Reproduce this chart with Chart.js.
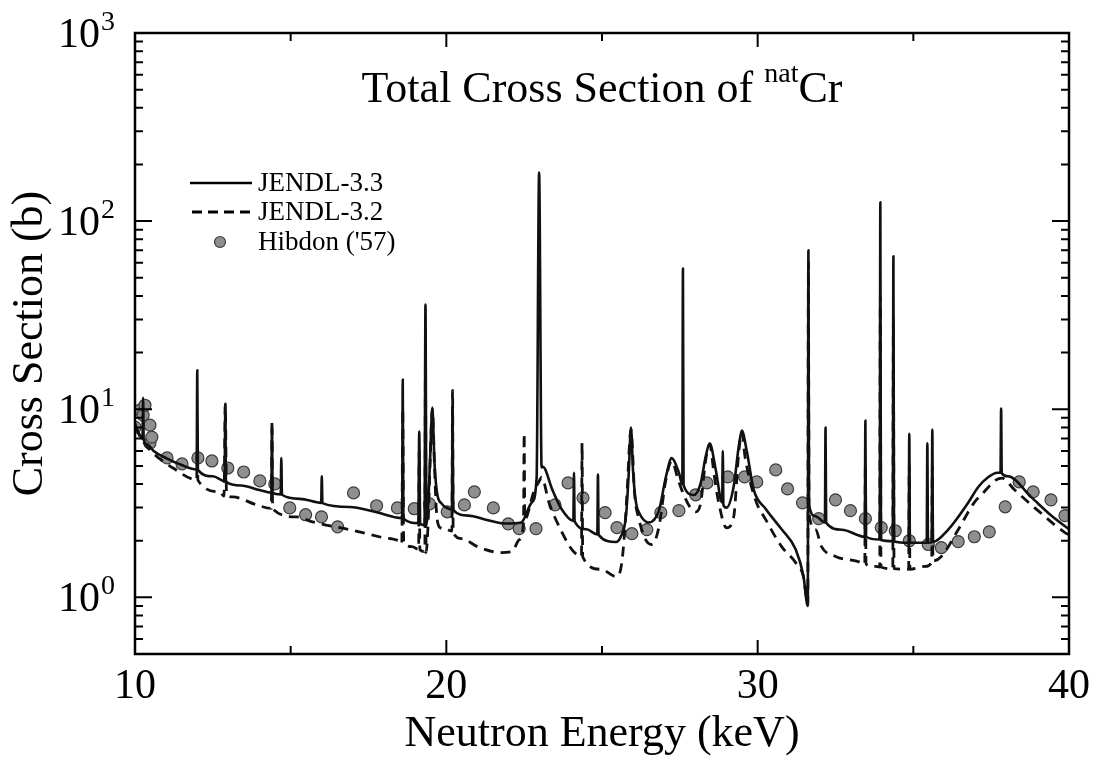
<!DOCTYPE html>
<html>
<head>
<meta charset="utf-8">
<script src="https://cdn.jsdelivr.net/npm/chart.js@4.4.0/dist/chart.umd.min.js"></script>
<style>
  html, body { margin: 0; padding: 0; background: #fff; }
  #wrap { width: 1098px; height: 771px; }
</style>
</head>
<body>
<div id="wrap"><canvas id="xs" width="1098" height="771"></canvas></div>
<script>
// total cross section of natural Cr, 10-40 keV
const j33E = [
  10.00, 10.10, 10.24, 10.26, 10.28, 10.40, 10.60, 11.00, 11.50, 11.98,
  12.00, 12.02, 12.50, 12.88, 12.90, 12.92, 13.40, 14.00, 14.38, 14.40,
  14.42, 14.68, 14.70, 14.72, 15.30, 15.98, 16.00, 16.02, 16.90, 17.70,
  18.58, 18.60, 18.62, 19.10, 19.13, 19.16, 19.30, 19.33, 19.36, 19.42,
  19.48, 19.55, 19.62, 19.70, 19.85, 20.00, 20.18, 20.20, 20.22, 20.70,
  21.30, 21.90, 22.40, 22.75, 22.90, 22.98, 23.06, 23.10, 23.40, 23.70,
  24.08, 24.10, 24.12, 24.50, 24.85, 24.87, 24.89, 25.45, 25.60, 25.77,
  25.86, 25.93, 26.00, 26.09, 26.20, 26.50, 26.83, 27.05, 27.24, 27.47,
  27.58, 27.60, 27.62, 27.95, 28.17, 28.33, 28.46, 28.65, 28.86, 28.88,
  28.90, 29.00, 29.23, 29.39, 29.49, 29.65, 29.87, 30.26, 30.77, 31.22,
  31.47, 31.61, 31.63, 31.65, 31.86, 32.16, 32.18, 32.20, 32.70, 33.44,
  33.46, 33.48, 33.92, 33.94, 33.96, 34.34, 34.36, 34.38, 34.85, 34.87,
  34.89, 35.43, 35.45, 35.47, 35.59, 35.61, 35.63, 36.12, 36.76, 37.08,
  37.40, 37.70, 37.80, 37.82, 37.84, 38.04, 38.78, 39.40, 40.00
];
const j33S = [
  8.4, 7.6, 7.0, 11.5, 6.9, 6.5, 6.0, 5.5, 5.05, 4.78,
  16.1, 4.76, 4.4, 4.15, 10.7, 4.13, 3.93, 3.72, 3.6, 8.0,
  3.59, 3.52, 5.5, 3.51, 3.34, 3.18, 4.4, 3.17, 3.02, 2.85,
  2.64, 14.4, 2.63, 2.48, 7.6, 2.46, 2.42, 36, 2.45, 3.2,
  5.5, 10.2, 5.2, 3.6, 3.15, 3.0, 2.93, 10.0, 2.92, 2.72,
  2.58, 2.47, 2.5, 3.2, 4.3, 181, 4.9, 4.95, 3.75, 2.95,
  2.55, 4.6, 2.54, 2.3, 2.16, 4.5, 2.15, 1.97, 2.1, 2.7,
  4.6, 8.0, 4.6, 3.2, 2.8, 2.5, 2.9, 4.35, 5.5, 4.6,
  4.0, 56, 3.95, 3.5, 4.05, 5.6, 6.6, 4.8, 3.2, 6.0,
  3.1, 3.0, 3.9, 6.3, 7.7, 6.0, 3.75, 2.95, 2.3, 1.8,
  1.3, 0.9, 70, 3.1, 2.7, 2.5, 8.0, 2.49, 2.29, 2.1,
  8.7, 2.1, 2.03, 126, 2.02, 1.99, 65, 1.98, 1.95, 7.4,
  1.95, 1.95, 6.6, 1.95, 1.96, 7.8, 1.97, 2.29, 3.18, 3.85,
  4.35, 4.6, 4.6, 10.1, 4.57, 4.4, 3.42, 2.75, 2.3
];

const j32E = [
  10.00, 10.30, 10.58, 11.22, 11.98, 12.00, 12.02, 12.72, 12.86, 12.90,
  12.94, 13.14, 13.91, 14.38, 14.40, 14.42, 15.19, 15.70, 16.90, 17.95,
  18.50, 18.57, 18.60, 18.63, 18.90, 19.11, 19.13, 19.15, 19.31, 19.33,
  19.35, 19.42, 19.48, 19.55, 19.62, 19.68, 19.80, 20.00, 20.18, 20.20,
  20.22, 20.50, 21.00, 21.75, 22.10, 22.35, 22.48, 22.50, 22.52, 22.80,
  23.00, 23.06, 23.30, 23.72, 24.04, 24.34, 24.36, 24.38, 24.97, 25.45,
  25.60, 25.70, 25.80, 25.93, 26.05, 26.19, 26.40, 26.60, 26.83, 27.05,
  27.24, 27.45, 27.60, 27.82, 28.01, 28.17, 28.33, 28.46, 28.60, 28.75,
  29.00, 29.23, 29.39, 29.49, 29.60, 29.93, 30.26, 30.77, 31.22, 31.47,
  31.61, 31.63, 31.65, 31.86, 32.05, 32.50, 33.23, 33.44, 33.46, 33.48,
  33.77, 33.92, 33.94, 33.96, 34.34, 34.36, 34.38, 34.85, 34.87, 34.89,
  35.38, 35.59, 35.61, 35.63, 35.90, 36.44, 36.96, 37.18, 37.66, 37.85,
  38.25, 39.08, 39.87, 40.00
];
const j32S = [
  8.0, 6.6, 5.85, 4.87, 4.22, 6.0, 4.2, 3.64, 3.45, 10.5,
  3.55, 3.42, 3.1, 2.97, 8.7, 2.96, 2.68, 2.52, 2.29, 2.08,
  1.98, 1.92, 10.0, 1.97, 1.86, 1.8, 6.0, 1.79, 1.75, 20,
  1.73, 2.6, 5.3, 10.0, 5.0, 2.9, 2.35, 2.3, 2.25, 12.6,
  2.22, 2.05, 1.86, 1.73, 1.75, 2.03, 2.5, 7.45, 2.6, 3.6,
  4.2, 4.35, 3.18, 2.21, 1.79, 1.65, 6.6, 1.64, 1.41, 1.29,
  1.41, 1.95, 3.5, 7.8, 3.5, 2.59, 2.03, 1.91, 2.37, 4.21,
  5.3, 4.2, 3.59, 3.03, 2.85, 3.18, 5.37, 6.5, 4.5, 3.18,
  2.34, 2.68, 5.85, 7.5, 5.5, 3.3, 2.59, 1.86, 1.53, 1.29,
  0.92, 60, 2.8, 2.29, 1.86, 1.65, 1.55, 1.5, 5.0, 1.5,
  1.46, 1.45, 40, 1.45, 1.42, 30, 1.42, 1.41, 5.0, 1.41,
  1.46, 1.54, 5.0, 1.56, 1.65, 2.29, 3.2, 3.5, 4.21, 4.3,
  3.73, 2.82, 2.21, 2.15
];

const hibE = [
  10.00, 10.16, 10.26, 10.32, 10.48, 10.48, 10.54, 11.03, 11.51, 12.02,
  12.47, 12.98, 13.49, 14.01, 14.49, 14.97, 15.48, 15.99, 16.51, 17.02,
  17.76, 18.43, 18.97, 19.46, 20.03, 20.58, 20.90, 21.51, 21.99, 22.34,
  22.88, 23.49, 23.91, 24.39, 25.10, 25.48, 25.96, 26.44, 26.89, 27.47,
  28.01, 28.37, 29.04, 29.58, 29.97, 30.58, 30.96, 31.44, 31.96, 32.50,
  32.98, 33.46, 33.97, 34.42, 34.87, 35.48, 35.90, 36.44, 36.96, 37.44,
  37.95, 38.40, 38.85, 39.42, 39.87
];
const hibS = [
  8.03, 9.9, 9.3, 10.5, 8.23, 6.61, 7.11, 5.51, 5.12, 5.51,
  5.31, 4.87, 4.64, 4.16, 4.01, 2.99, 2.75, 2.68, 2.37, 3.59,
  3.07, 2.99, 2.96, 3.14, 2.85, 3.10, 3.64, 2.99, 2.46, 2.32,
  2.32, 3.10, 4.06, 3.38, 2.82, 2.35, 2.18, 2.29, 2.82, 2.89,
  3.51, 4.06, 4.37, 4.37, 4.11, 4.76, 3.77, 3.18, 2.62, 3.30,
  2.89, 2.62, 2.35, 2.26, 2.00, 1.91, 1.84, 1.98, 2.10, 2.23,
  3.03, 4.11, 3.64, 3.30, 2.72
];

const xMajor = [10, 20, 30, 40];
const xMinor = [15, 25, 35];
const yMajor = [1, 10, 100, 1000];
const yExp = ['0', '1', '2', '3'];
const yMinor = [0.6, 0.7, 0.8, 0.9, 2, 3, 4, 5, 6, 7, 8, 9,
                20, 30, 40, 50, 60, 70, 80, 90, 200, 300, 400, 500, 600, 700, 800, 900];

const serif = "'Liberation Serif', 'Times New Roman', serif";
const pts = (xs, ys) => xs.map((x, i) => ({ x, y: ys[i] }));

// frame, inward ticks on four sides, power-of-ten labels, inner title and key
const decor = {
  id: 'decor',
  afterDraw(chart) {
    const { ctx, chartArea: a, scales: { x, y } } = chart;
    ctx.save();
    ctx.strokeStyle = '#000';
    ctx.lineWidth = 2.5;
    ctx.strokeRect(a.left, a.top, a.right - a.left, a.bottom - a.top);

    ctx.lineWidth = 2;
    ctx.beginPath();
    yMajor.forEach(v => {
      const p = y.getPixelForValue(v);
      ctx.moveTo(a.left, p); ctx.lineTo(a.left + 17, p);
      ctx.moveTo(a.right, p); ctx.lineTo(a.right - 17, p);
    });
    yMinor.forEach(v => {
      const p = y.getPixelForValue(v);
      ctx.moveTo(a.left, p); ctx.lineTo(a.left + 8, p);
      ctx.moveTo(a.right, p); ctx.lineTo(a.right - 8, p);
    });
    xMajor.forEach(v => {
      const p = x.getPixelForValue(v);
      ctx.moveTo(p, a.bottom); ctx.lineTo(p, a.bottom - 14);
      ctx.moveTo(p, a.top); ctx.lineTo(p, a.top + 14);
    });
    xMinor.forEach(v => {
      const p = x.getPixelForValue(v);
      ctx.moveTo(p, a.bottom); ctx.lineTo(p, a.bottom - 8);
      ctx.moveTo(p, a.top); ctx.lineTo(p, a.top + 8);
    });
    ctx.stroke();

    ctx.fillStyle = '#000';
    ctx.textBaseline = 'alphabetic';
    yMajor.forEach((v, i) => {
      const p = y.getPixelForValue(v);
      ctx.font = '42px ' + serif;
      ctx.textAlign = 'right';
      ctx.fillText('10', a.left - 35, p + 14);
      ctx.font = '28px ' + serif;
      ctx.textAlign = 'left';
      ctx.fillText(yExp[i], a.left - 34, p - 3);
    });

    // title: Total Cross Section of natCr
    const big = '44px ' + serif, small = '28px ' + serif;
    const t1 = 'Total Cross Section of ', t2 = 'nat', t3 = 'Cr';
    ctx.font = big; const w1 = ctx.measureText(t1).width, w3 = ctx.measureText(t3).width;
    ctx.font = small; const w2 = ctx.measureText(t2).width;
    let tx = (a.left + a.right) / 2 - (w1 + w2 + w3) / 2;
    const ty = a.top + 69;
    ctx.font = big; ctx.fillText(t1, tx, ty); tx += w1;
    ctx.font = small; ctx.fillText(t2, tx, ty - 20); tx += w2;
    ctx.font = big; ctx.fillText(t3, tx, ty);

    // key
    const kx = a.left + 55, rows = [a.top + 150, a.top + 179, a.top + 209];
    ctx.lineWidth = 2.6;
    ctx.beginPath(); ctx.moveTo(kx, rows[0]); ctx.lineTo(kx + 62, rows[0]); ctx.stroke();
    ctx.lineWidth = 2.8;
    ctx.setLineDash([10, 6]);
    ctx.beginPath(); ctx.moveTo(kx + 2, rows[1]); ctx.lineTo(kx + 62, rows[1]); ctx.stroke();
    ctx.setLineDash([]);
    ctx.beginPath(); ctx.arc(kx + 30, rows[2], 5.5, 0, Math.PI * 2);
    ctx.fillStyle = '#8f8f8f'; ctx.fill();
    ctx.lineWidth = 1.2; ctx.strokeStyle = '#3c3c3c'; ctx.stroke();
    ctx.fillStyle = '#000';
    ctx.font = '27px ' + serif;
    ctx.textBaseline = 'middle';
    ['JENDL-3.3', 'JENDL-3.2', "Hibdon ('57)"].forEach((s, i) => ctx.fillText(s, kx + 68, rows[i] + 1));
    ctx.restore();
  }
};

new Chart(document.getElementById('xs'), {
  type: 'scatter',
  data: {
    datasets: [
      {
        label: 'JENDL-3.3',
        data: pts(j33E, j33S),
        showLine: true,
        borderColor: '#111',
        borderWidth: 2.6,
        pointRadius: 0,
        cubicInterpolationMode: 'monotone',
        borderJoinStyle: 'round'
      },
      {
        label: 'JENDL-3.2',
        data: pts(j32E, j32S),
        showLine: true,
        borderColor: '#111',
        borderWidth: 2.8,
        borderDash: [10, 7],
        pointRadius: 0,
        cubicInterpolationMode: 'monotone',
        borderJoinStyle: 'round'
      },
      {
        label: "Hibdon ('57)",
        data: pts(hibE, hibS),
        showLine: false,
        pointRadius: 6,
        pointBackgroundColor: '#8f8f8f',
        pointBorderColor: '#3c3c3c',
        pointBorderWidth: 1.2
      }
    ]
  },
  options: {
    responsive: false,
    animation: false,
    layout: { padding: { top: 33, right: 28, bottom: 0, left: 0 } },
    scales: {
      x: {
        type: 'linear', min: 10, max: 40,
        afterFit: s => { s.height = 117; },
        ticks: { stepSize: 10, color: '#000', padding: 8, font: { family: serif, size: 42 } },
        grid: { display: false, drawTicks: false },
        border: { display: false },
        title: { display: true, text: 'Neutron Energy (keV)', color: '#000',
                 font: { family: serif, size: 44 }, padding: { top: 0, bottom: 10 } }
      },
      y: {
        type: 'logarithmic', min: 0.5, max: 1000,
        afterFit: s => { s.width = 135; },
        ticks: { display: false },
        grid: { display: false, drawTicks: false },
        border: { display: false },
        title: { display: true, text: 'Cross Section (b)', color: '#000',
                 font: { family: serif, size: 44 }, padding: { top: 4, bottom: 0 } }
      }
    },
    plugins: { legend: { display: false }, tooltip: { enabled: false } }
  },
  plugins: [decor]
});
</script>
</body>
</html>
